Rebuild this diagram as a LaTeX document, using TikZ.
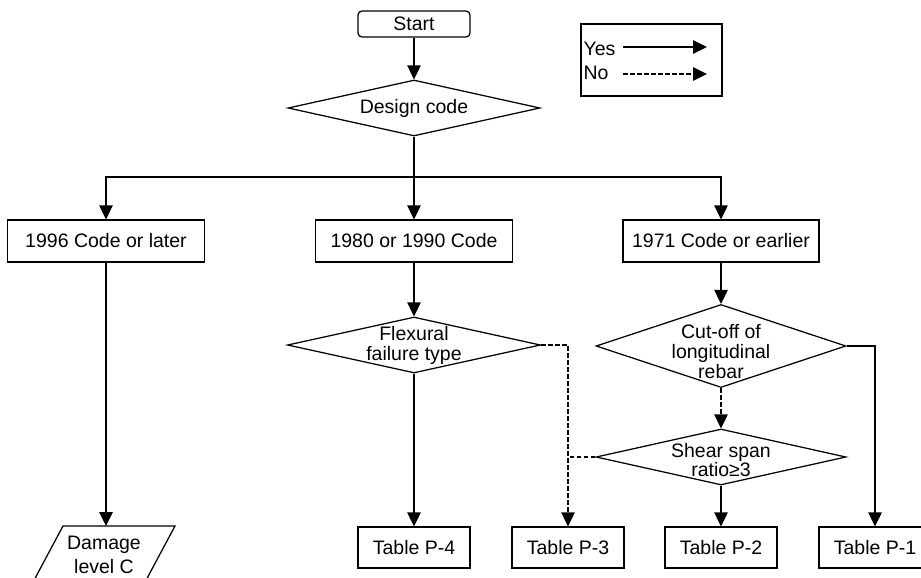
\documentclass[tikz,border=0pt]{standalone}
\usepackage{fontspec}
\setmainfont{Liberation Sans}
\usetikzlibrary{shapes.geometric,arrows.meta,calc}
\begin{document}
\begin{tikzpicture}[x=1pt,y=-1pt,
  font=\fontsize{19.5}{20}\selectfont,
  line width=1.25pt,
  procbox/.style={draw,rectangle,inner sep=0pt,minimum height=42pt},
  tablebox/.style={draw,rectangle,inner sep=0pt,minimum width=112pt,minimum height=41pt},
  decision/.style={draw,diamond,inner sep=0pt},
  dtext/.style={align=center,inner sep=0pt},
  yesline/.style={-{Triangle[length=14pt,width=13.5pt]}},
  noline/.style={dash pattern=on 4.5pt off 2.5pt},
  noarrow/.style={noline,-{Triangle[length=14pt,width=13.5pt]}}]
\useasboundingbox (0,0) rectangle (921,578);
\clip (0,0) rectangle (921,578);

% start and first decision
\node[draw,rounded corners=4pt,minimum width=112pt,minimum height=26pt,inner sep=0pt] (start) at (414,24) {Start};
\node[decision,minimum width=252pt,minimum height=56pt,label={[dtext]center:Design code}] (design) at (414,108) {};

% legend
\node[draw,minimum width=141pt,minimum height=72pt] (legend) at (651.5,60) {};
\node[anchor=west,inner sep=0pt] (yes) at (583,49) {Yes};
\node[anchor=west,inner sep=0pt] (no) at (583,73) {No};
\coordinate (ya) at (623,47);
\coordinate (yb) at (707,47);
\coordinate (na) at (623,74);
\coordinate (nb) at (707,74);

% code era boxes
\node[procbox,minimum width=197pt] (b96) at (106,241) {1996 Code or later};
\node[procbox,minimum width=197pt] (b80) at (414,241) {1980 or 1990 Code};
\node[procbox,minimum width=196pt] (b71) at (721,241) {1971 Code or earlier};
\coordinate (split) at (414,177);

% further decisions
\node[decision,minimum width=253pt,minimum height=56pt,label={[dtext]center:Flexural\\failure type}] (flex) at (414,345) {};
\node[decision,minimum width=250pt,minimum height=83pt,label={[dtext,yshift=-6pt]center:Cut-off of\\longitudinal\\rebar}] (cut) at (721,346) {};
\node[decision,minimum width=250pt,minimum height=56pt,label={[dtext,yshift=-3pt,font=\fontsize{19.5}{17.5}\selectfont]center:Shear span\\ratio≥3}] (shear) at (721,457) {};

% results
\node[tablebox] (p4) at (414,547.5) {Table P-4};
\node[tablebox] (p3) at (568,547.5) {Table P-3};
\node[tablebox] (p2) at (721,547.5) {Table P-2};
\node[tablebox] (p1) at (875,547.5) {Table P-1};
\node[dtext,font=\fontsize{19.5}{24}\selectfont] (dmg) at (104,555) {Damage\\level C};
\draw ($(dmg.center)+(-41,-29)$) -- ($(dmg.center)+(71,-29)$) -- ($(dmg.center)+(40,29)$) -- ($(dmg.center)+(-72,29)$) -- cycle;
\coordinate (dmgN) at (106,526);

% connectors
\draw[yesline] (start) -- (design);
\draw (design.south) -- (split);
\draw[yesline] (split) -- (b80);
\draw[yesline] (split) -| (b96.north);
\draw[yesline] (split) -| (b71.north);
\draw[yesline] (b96) -- (dmgN);
\draw[yesline] (b80) -- (flex);
\draw[yesline] (b71) -- (cut);
\draw[yesline] (flex.south) -- (flex.south |- p4.north);
\draw[noarrow] (flex.east) -| (p3.north);
\draw[noline] (shear.west) -- (shear.west -| p3.north);
\draw[noarrow] (cut.south) -- (shear.north);
\draw[yesline] (cut.east) -| (p1.north);
\draw[yesline] (shear.south) -- (p2.north);
\draw[yesline] (ya) -- (yb);
\draw[noarrow] (na) -- (nb);
\end{tikzpicture}
\end{document}
